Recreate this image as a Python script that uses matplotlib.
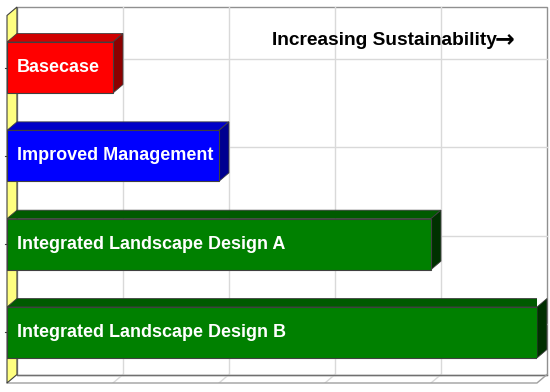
import matplotlib.pyplot as plt
from matplotlib.patches import Polygon
import numpy as np

# data
categories = ['Basecase', 'Improved Management',
              'Integrated Landscape Design A', 'Integrated Landscape Design B']
values = [1, 2, 4, 5]
front_colors = ['#FF0000', '#0000FF', '#008000', '#008000']
top_colors = ['#D00000', '#0000C8', '#005A00', '#005A00']
side_colors = ['#8C0000', '#000090', '#003000', '#003000']
note = 'Increasing Sustainability'
arrow = '\u2192'

xmax = 5
dx, dy = 0.094, -0.096      # depth offset of the 3-D box
bar_h = 0.577
y_top, y_bot = -0.685, 3.572

fig = plt.figure(figsize=(5.5, 3.92), dpi=100)
ax = fig.add_axes([7 / 550, 9 / 392, 530 / 550, 376 / 392])
ax.set_xlim(0, xmax)
ax.set_ylim(y_bot, y_top)
ax.axis('off')

ypos = np.arange(len(categories))
grid_c = '#D9D9D9'

# back wall
ax.add_patch(Polygon([(dx, y_top), (xmax + dx, y_top), (xmax + dx, y_bot + dy),
                      (dx, y_bot + dy)], closed=True, fc='white', ec='#909090',
                     lw=1, zorder=0, clip_on=False))
for k in range(1, xmax):
    ax.plot([k + dx, k + dx], [y_top, y_bot + dy], color=grid_c, lw=1, zorder=0.5)
    ax.plot([k + dx, k], [y_bot + dy, y_bot], color=grid_c, lw=1, zorder=0.5)
for y in ypos:
    ax.plot([dx, xmax + dx], [y + dy, y + dy], color=grid_c, lw=1, zorder=0.5,
            clip_on=False)
ax.plot([dx, xmax + dx], [y_bot + dy, y_bot + dy], color='#707070', lw=1,
        zorder=0.6, clip_on=False)

# floor edges
ax.plot([0, xmax, xmax + dx], [y_bot, y_bot, y_bot + dy], color='#A0A0A0',
        lw=1, zorder=0.6, clip_on=False)

# yellow side wall
ax.add_patch(Polygon([(0, y_top - dy), (dx, y_top), (dx, y_bot + dy), (0, y_bot)],
                     closed=True, fc='#FFFF80', ec='#404040', lw=0.8, zorder=1,
                     clip_on=False))
for y in ypos:
    ax.plot([-0.02, 0], [y, y], color='#404040', lw=0.8, zorder=1, clip_on=False)

# bars
ax.barh(ypos, values, height=bar_h, left=0, color=front_colors,
        edgecolor='#404040', linewidth=0.8, zorder=3)
for y, v, tc, sc in zip(ypos, values, top_colors, side_colors):
    t = y - bar_h / 2
    b = y + bar_h / 2
    ax.add_patch(Polygon([(0, t), (dx, t + dy), (v + dx, t + dy), (v, t)],
                         closed=True, fc=tc, ec='#404040', lw=0.6, zorder=2.5))
    ax.add_patch(Polygon([(v, t), (v + dx, t + dy), (v + dx, b + dy), (v, b)],
                         closed=True, fc=sc, ec='#404040', lw=0.6, zorder=2.5,
                         clip_on=False))

fonts = ['Liberation Sans', 'DejaVu Sans']
for y, name in zip(ypos, categories):
    ax.text(dx, y, name, color='white', fontsize=13, fontweight='bold',
            family=fonts, va='center', ha='left', zorder=4)

ax.text(2.5, -0.31, note, color='black', fontsize=13.8, fontweight='bold',
        family=fonts, va='center', ha='left', zorder=4)
ax.text(4.6, -0.32, arrow, color='black', fontsize=17, fontweight='bold',
        family='DejaVu Sans', va='center', ha='left', zorder=4)

fig.savefig('out.png', dpi=100, facecolor='white')
